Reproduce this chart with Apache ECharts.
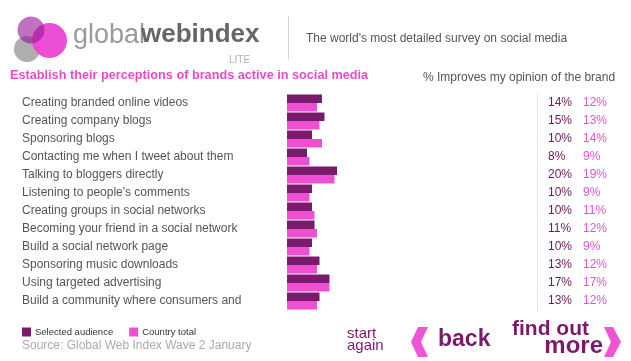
<!DOCTYPE html>
<html>
<head>
<meta charset="utf-8">
<script src="https://cdn.jsdelivr.net/npm/echarts@6/dist/echarts.min.js"></script>
<style>html,body{margin:0;padding:0;background:#fff;}#c{width:631px;height:361px;}</style>
</head>
<body>
<div id="c"></div>
<script>
const categories = [
  'Creating branded online videos',
  'Creating company blogs',
  'Sponsoring blogs',
  'Contacting me when I tweet about them',
  'Talking to bloggers directly',
  "Listening to people's comments",
  'Creating groups in social networks',
  'Becoming your friend in a social network',
  'Build a social network page',
  'Sponsoring music downloads',
  'Using targeted advertising',
  'Build a community where consumers and'
];
const selectedAudience = [14, 15, 10, 8, 20, 10, 10, 11, 10, 13, 17, 13];
const countryTotal = [12, 13, 14, 9, 19, 9, 11, 12, 9, 12, 17, 12];
const seriesNames = ['Selected audience', 'Country total'];

const DARK = '#7a1a6c';
const PINK = '#ef50d2';
const FONT = '"Liberation Sans", Arial, sans-serif';

const chart = echarts.init(document.getElementById('c'), null, {renderer: 'canvas'});
chart.setOption({
  backgroundColor: '#ffffff',
  animation: false,
  textStyle: {fontFamily: FONT},
  grid: {left: 287, top: 94, width: 100, height: 216, containLabel: false},
  xAxis: {type: 'value', min: 0, max: 40, show: false},
  yAxis: [
    {
      type: 'category', data: categories, inverse: true,
      axisLine: {show: false}, axisTick: {show: false}, splitLine: {show: false},
      axisLabel: {align: 'left', margin: 265, color: '#555', fontSize: 12, fontFamily: FONT}
    },
    {
      type: 'category', data: categories, inverse: true, position: 'right',
      axisLine: {show: false}, axisTick: {show: false}, splitLine: {show: false},
      axisLabel: {
        align: 'left', margin: 161, fontSize: 12, fontFamily: FONT,
        formatter: function (v, i) {
          return '{a|' + selectedAudience[i] + '%}{b|' + countryTotal[i] + '%}';
        },
        rich: {
          a: {color: '#6b1a60', width: 35, fontSize: 12, fontFamily: FONT},
          b: {color: '#e055cc', fontSize: 12, fontFamily: FONT}
        }
      }
    }
  ],
  legend: {
    left: 17, top: 322, itemWidth: 9, itemHeight: 9, itemGap: 16, icon: 'rect',
    textStyle: {fontSize: 9.5, color: '#333', fontFamily: FONT, padding: [0, 0, 0, -1]},
    data: seriesNames
  },
  series: [
    {name: seriesNames[0], type: 'bar', data: selectedAudience, barWidth: 8.5, barGap: '0%',
     itemStyle: {color: DARK}, silent: true},
    {name: seriesNames[1], type: 'bar', data: countryTotal, barWidth: 8.5, barGap: '0%',
     itemStyle: {color: PINK}, silent: true}
  ],
  graphic: [
    // logo circles
    {type: 'circle', shape: {cx: 27, cy: 49, r: 13}, style: {fill: 'rgba(165,165,165,0.9)'}},
    {type: 'circle', shape: {cx: 49.5, cy: 40.5, r: 17.5}, style: {fill: 'rgba(236,70,210,0.95)'}},
    {type: 'circle', shape: {cx: 31, cy: 30, r: 13.5}, style: {fill: 'rgba(150,20,150,0.6)'}},
    {type: 'text', left: 73, top: 22, style: {text: 'global', font: '27px ' + FONT, fill: '#9a9a9a'}},
    {type: 'text', left: 141, top: 22, style: {text: 'webindex', font: 'bold 26px ' + FONT, fill: '#666'}},
    {type: 'text', left: 229, top: 55, style: {text: 'LITE', font: '10px ' + FONT, fill: '#b0b0b0'}},
    {type: 'line', shape: {x1: 288.5, y1: 16, x2: 288.5, y2: 60}, style: {stroke: '#d8d8d8', lineWidth: 1}},
    {type: 'text', left: 306, top: 33, style: {text: "The world's most detailed survey on social media", font: '12px ' + FONT, fill: '#555'}},
    // titles
    {type: 'text', left: 10, top: 69, style: {text: 'Establish their perceptions of brands active in social media', font: 'bold 12.7px ' + FONT, fill: '#e54cc6'}},
    {type: 'text', left: 423, top: 72, style: {text: '% Improves my opinion of the brand', font: '12px ' + FONT, fill: '#555'}},
    {type: 'line', shape: {x1: 537.5, y1: 92, x2: 537.5, y2: 311}, style: {stroke: '#e4e4e4', lineWidth: 1}},
    // source
    {type: 'text', left: 22, top: 340, style: {text: 'Source: Global Web Index Wave 2 January', font: '12px ' + FONT, fill: '#aaa'}},
    // buttons
    {type: 'text', left: 347, top: 326, style: {text: 'start', font: '15px ' + FONT, fill: '#7a1a6c'}},
    {type: 'text', left: 347, top: 338, style: {text: 'again', font: '15px ' + FONT, fill: '#7a1a6c'}},
    {type: 'polygon', shape: {points: [[428, 327], [418, 327], [411, 342], [418, 357], [428, 357], [421, 342]]}, style: {fill: '#ee55d5'}},
    {type: 'text', left: 438, top: 328, style: {text: 'back', font: 'bold 23px ' + FONT, fill: '#7a1a6c'}},
    {type: 'text', left: 512, top: 319, style: {text: 'find out', font: 'bold 21px ' + FONT, fill: '#7a1a6c'}},
    {type: 'text', right: 28, top: 334, style: {text: 'more', font: 'bold 24px ' + FONT, fill: '#7a1a6c'}},
    {type: 'polygon', shape: {points: [[604, 327], [613, 327], [621, 342], [613, 357], [604, 357], [611, 342]]}, style: {fill: '#ee55d5'}}
  ]
});
</script>
</body>
</html>
